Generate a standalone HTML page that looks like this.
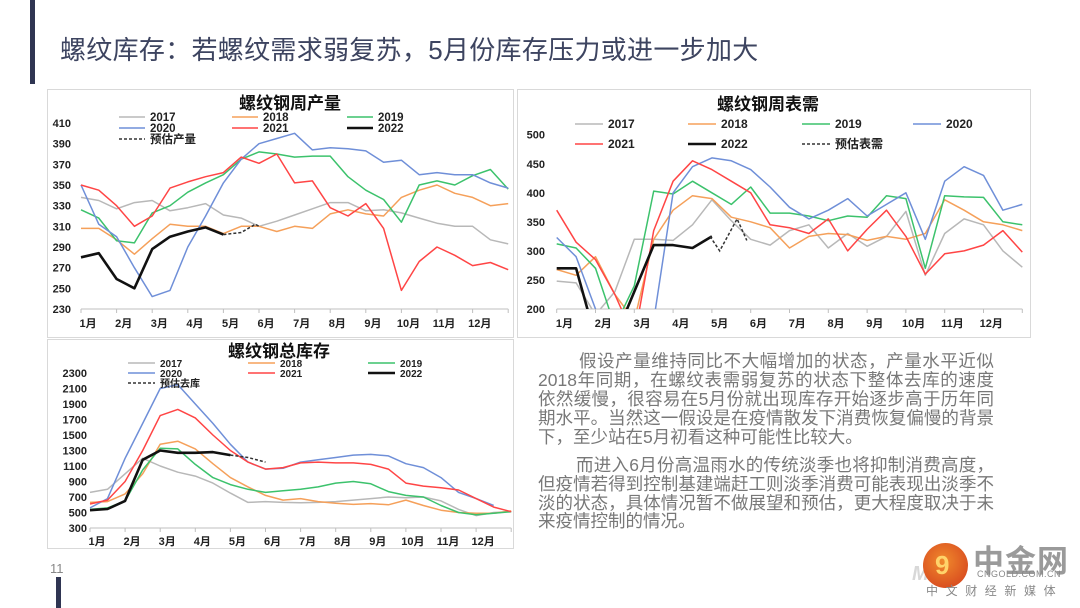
<!DOCTYPE html>
<html><head><meta charset="utf-8">
<style>
html,body{margin:0;padding:0;background:#fff;}
body{width:1080px;height:608px;position:relative;overflow:hidden;font-family:"Liberation Sans","Noto Sans CJK SC",sans-serif;}
.abs{position:absolute;}
.title{left:60px;top:30px;font-size:26px;color:#3d4460;white-space:nowrap;letter-spacing:0.3px;}
.ln{position:absolute;left:538px;width:456px;font-size:17.5px;color:#787878;line-height:19px;height:19px;text-align:justify;text-align-last:justify;white-space:nowrap;}
.ln.last{text-align-last:left;}
svg text{font-family:"Liberation Sans","Noto Sans CJK SC",sans-serif;}
</style></head>
<body>
<div class="abs" style="left:30px;top:0;width:5px;height:84px;background:#2f3552;"></div>
<div class="abs title">螺纹库存：若螺纹需求弱复苏，5月份库存压力或进一步加大</div>
<div class="abs" style="left:50px;top:561px;font-size:13px;color:#888;">11</div>
<div class="abs" style="left:56px;top:577px;width:5px;height:31px;background:#2f3552;"></div>

<div class="abs" style="left:47px;top:89px;width:465px;height:247px;border:1px solid #d9d9d9;"></div>
<div class="abs" style="left:517px;top:89px;width:512px;height:247px;border:1px solid #d9d9d9;"></div>
<div class="abs" style="left:47px;top:339px;width:465px;height:208px;border:1px solid #d9d9d9;"></div>

<div>
<div class="ln" style="top:352px;left:579px;width:415px;">假设产量维持同比不大幅增加的状态，产量水平近似</div>
<div class="ln" style="top:371px;">2018年同期，在螺纹表需弱复苏的状态下整体去库的速度</div>
<div class="ln" style="top:390px;">依然缓慢，很容易在5月份就出现库存开始逐步高于历年同</div>
<div class="ln" style="top:409px;">期水平。当然这一假设是在疫情散发下消费恢复偏慢的背景</div>
<div class="ln last" style="top:428px;">下，至少站在5月初看这种可能性比较大。</div>
<div class="ln" style="top:456px;left:576px;width:418px;">而进入6月份高温雨水的传统淡季也将抑制消费高度，</div>
<div class="ln" style="top:475px;">但疫情若得到控制基建端赶工则淡季消费可能表现出淡季不</div>
<div class="ln" style="top:494px;">淡的状态，具体情况暂不做展望和预估，更大程度取决于未</div>
<div class="ln last" style="top:512px;">来疫情控制的情况。</div>
</div>

<div>
<div class="abs" style="left:912px;top:563px;font-size:20px;font-weight:bold;font-style:italic;color:#d8d8d8;">Mxxe</div>
<div class="abs" style="left:923px;top:543px;width:45px;height:45px;border-radius:50%;background:radial-gradient(circle at 45% 40%,#f08a2c,#d23a1c);"></div>
<div class="abs" style="left:935px;top:550px;font-size:26px;font-weight:bold;color:#ffd36a;">9</div>
<div class="abs" style="left:973px;top:536px;font-size:31px;font-weight:bold;color:#9a9a9a;letter-spacing:1px;">中金网</div>
<div class="abs" style="left:977px;top:569px;font-size:9px;color:#888;letter-spacing:0.5px;">CNGOLD.COM.CN</div>
<div class="abs" style="left:926px;top:582px;font-size:12px;color:#888;letter-spacing:7.6px;">中文财经新媒体</div>
</div>

<svg id="charts" class="abs" style="left:0;top:0" width="1080" height="608">
<defs>
<clipPath id="clip1"><rect x="79" y="110" width="432" height="200"/></clipPath>
<clipPath id="clip2"><rect x="550" y="120" width="478" height="189"/></clipPath>
<clipPath id="clip3"><rect x="88" y="360" width="424" height="169"/></clipPath>
</defs>
</svg>

<script>
// ===== shared
const years = ['2017','2018','2019','2020','2021','2022'];
const monthLabels = ['1月','2月','3月','4月','5月','6月','7月','8月','9月','10月','11月','12月'];
// half-month sampling: value i is at month i/2

// ===== Chart 1: 螺纹钢周产量
const prodTicks = [230,250,270,290,310,330,350,370,390,410];
const prod2017 = [338,335,327,333,335,325,328,332,321,318,310,315,321,327,333,333,325,326,323,318,313,310,310,297,293];
const prod2018 = [308,308,297,283,298,312,310,310,303,310,310,305,310,308,322,326,322,320,338,345,350,342,338,330,332];
const prod2019 = [326,318,296,294,323,330,343,352,360,375,382,380,377,378,378,358,345,336,314,350,354,350,359,365,346];
const prod2020 = [350,312,300,270,242,248,290,320,352,375,390,395,400,384,386,385,383,372,374,360,362,360,360,352,347];
const prod2021 = [350,345,330,310,320,347,353,358,362,377,371,380,352,354,328,320,332,308,248,276,290,282,272,275,268];
const prod2022 = [280,284,259,250,288,300,305,309,302];
const prodFcMonths = [4,4.5,4.9,5];
const prodFc = [302,304,312,310];

// ===== Chart 2: 螺纹钢周表需
const demTicks = [200,250,300,350,400,450,500];
const dem2017 = [248,245,190,230,320,320,318,345,388,352,320,310,335,345,305,330,308,325,368,258,330,355,345,300,272];
const dem2018 = [268,258,290,225,180,320,370,395,390,358,350,340,305,325,330,328,318,325,320,330,388,370,350,345,335];
const dem2019 = [312,305,270,170,240,403,398,420,400,380,410,365,365,360,352,360,358,395,390,270,395,393,392,350,345];
const dem2020 = [323,290,200,170,150,180,400,445,460,455,440,410,375,355,370,390,360,380,400,320,420,445,430,370,380];
const dem2021 = [370,315,285,225,150,335,420,455,440,420,400,345,340,330,355,300,337,370,325,260,295,300,310,335,298];
const dem2022 = [270,270,150,150,230,310,310,305,325];
const demFcMonths = [3.95,4.2,4.65,4.9];
const demFc = [325,300,355,318];

// ===== Chart 3: 螺纹钢总库存
const invTicks = [300,500,700,900,1100,1300,1500,1700,1900,2100,2300];
const inv2017 = [760,800,1000,1200,1100,1020,970,880,750,630,640,630,625,630,640,660,680,700,690,700,650,540,460,500,510];
const inv2018 = [630,640,740,1000,1380,1420,1320,1130,950,830,720,660,680,640,620,605,615,600,660,590,530,500,490,490,520];
const inv2019 = [540,560,650,1050,1330,1320,1120,950,860,800,760,780,800,830,880,900,870,770,720,700,590,500,470,490,510];
const inv2020 = [560,680,1200,1650,2100,2150,1900,1650,1380,1150,1060,1070,1150,1180,1210,1240,1250,1230,1130,1080,950,760,680,590];
const inv2021 = [610,660,900,1300,1750,1830,1720,1500,1300,1150,1060,1080,1140,1150,1140,1140,1120,1060,880,840,820,790,680,570,510];
const inv2022 = [530,545,650,1180,1300,1270,1270,1280,1240];
const invFcMonths = [4,4.5,5];
const invFc = [1240,1210,1150];

const colors = {'2017':'#b8b8b8','2018':'#f5a05a','2019':'#3cc26c','2020':'#6f8fd8','2021':'#ff4545','2022':'#111'};
const NS='http://www.w3.org/2000/svg';
const svg=document.getElementById('charts');
function mk(tag,attrs,parent){const e=document.createElementNS(NS,tag);for(const k in attrs)e.setAttribute(k,attrs[k]);(parent||svg).appendChild(e);return e;}

function drawChart(cfg){
  const g=mk('g',{});
  
  
  const X=m=>cfg.x0+m*cfg.dx;
  const Y=v=>cfg.yTop+(cfg.vMax-v)/(cfg.vMax-cfg.vMin)*(cfg.yBot-cfg.yTop);
  const t=mk('text',{x:cfg.titleX,y:cfg.titleY,'font-size':17,'font-weight':'bold','text-anchor':'middle',fill:'#111'},g);
  t.textContent=cfg.title;
  
  
  cfg.ticks.forEach(v=>{
    const yt=mk('text',{x:cfg.yLabelX,y:Y(v)+4,'font-size':11,'font-weight':'bold','text-anchor':'end',fill:'#222'},g);
    yt.textContent=v;
    
    
  });
  const ax=mk('line',{x1:X(0),x2:X(12),y1:cfg.yBot,y2:cfg.yBot,stroke:'#bfbfbf','stroke-width':1},g);
  
  
  for(let m=0;m<=12;m++){mk('line',{x1:X(m),x2:X(m),y1:cfg.yBot,y2:cfg.yBot+4,stroke:'#bfbfbf'},g);}
  monthLabels.forEach((lb,i)=>{
    const xt=mk('text',{x:X(i)+cfg.dx*0.2,y:cfg.xLabelY,'font-size':11,'font-weight':'bold','text-anchor':'middle',fill:'#222'},g);
    xt.textContent=lb;
    
    
  });
  const sg=mk('g',{'clip-path':'url(#'+cfg.clip+')'},g);
  years.forEach((yr,k)=>{
    const vals=cfg.series[k];
    const pts=vals.map((v,i)=>X(i/2).toFixed(1)+','+Y(v).toFixed(1)).join(' ');
    const p=mk('polyline',{points:pts,fill:'none',stroke:colors[yr],'stroke-width':yr==='2022'?2.6:1.5,'stroke-linejoin':'round'},sg);
    
    
  });
  const fpts=cfg.fcM.map((m,i)=>X(m).toFixed(1)+','+Y(cfg.fcV[i]).toFixed(1)).join(' ');
  const fp=mk('polyline',{points:fpts,fill:'none',stroke:'#333','stroke-width':1.5,'stroke-dasharray':'3,2'},sg);
  
  
  const entries=years.map(y=>({label:y,color:colors[y],w:y==='2022'?2.6:1.5,dash:null})).concat([{label:cfg.fcLabel,color:'#333',w:1.5,dash:'3,2'}]);
  entries.forEach((e,i)=>{
    const pos=cfg.legendPos[i];
    const lg=mk('g',{},g);
    
    
    const la={x1:pos[0],x2:pos[0]+cfg.legLine,y1:pos[1]-4,y2:pos[1]-4,stroke:e.color,'stroke-width':e.w};
    if(e.dash)la['stroke-dasharray']=e.dash;
    mk('line',la,lg);
    const lt=mk('text',{x:pos[0]+cfg.legLine+5,y:pos[1],'font-size':cfg.legFont,'font-weight':'bold',fill:'#222'},lg);
    lt.textContent=e.label;
  });
}

drawChart({name:'production-chart',title:'螺纹钢周产量',titleX:290,titleY:109,
  x0:81,dx:35.6,yTop:123,yBot:309,vMin:230,vMax:410,ticks:prodTicks,yLabelX:71,xLabelY:327,clip:'clip1',
  series:[prod2017,prod2018,prod2019,prod2020,prod2021,prod2022],fcM:prodFcMonths,fcV:prodFc,fcLabel:'预估产量',
  legLine:26,legFont:11.5,legendPos:[[119,121],[232,121],[347,121],[119,132],[232,132],[347,132],[119,143]]});

drawChart({name:'demand-chart',title:'螺纹钢周表需',titleX:768,titleY:110,
  x0:556.7,dx:38.8,yTop:134.7,yBot:309,vMin:200,vMax:500,ticks:demTicks,yLabelX:545,xLabelY:327,clip:'clip2',
  series:[dem2017,dem2018,dem2019,dem2020,dem2021,dem2022],fcM:demFcMonths,fcV:demFc,fcLabel:'预估表需',
  legLine:28,legFont:12,legendPos:[[575,128],[688,128],[802,128],[913,128],[575,148],[688,148],[802,148]]});

drawChart({name:'inventory-chart',title:'螺纹钢总库存',titleX:279,titleY:357,
  x0:90,dx:35.1,yTop:373,yBot:528,vMin:300,vMax:2300,ticks:invTicks,yLabelX:87,xLabelY:545,clip:'clip3',
  series:[inv2017,inv2018,inv2019,inv2020,inv2021,inv2022],fcM:invFcMonths,fcV:invFc,fcLabel:'预估去库',
  legLine:27,legFont:10,legendPos:[[128,367],[248,367],[368,367],[128,377],[248,377],[368,377],[128,387]]});
</script>
</body></html>
